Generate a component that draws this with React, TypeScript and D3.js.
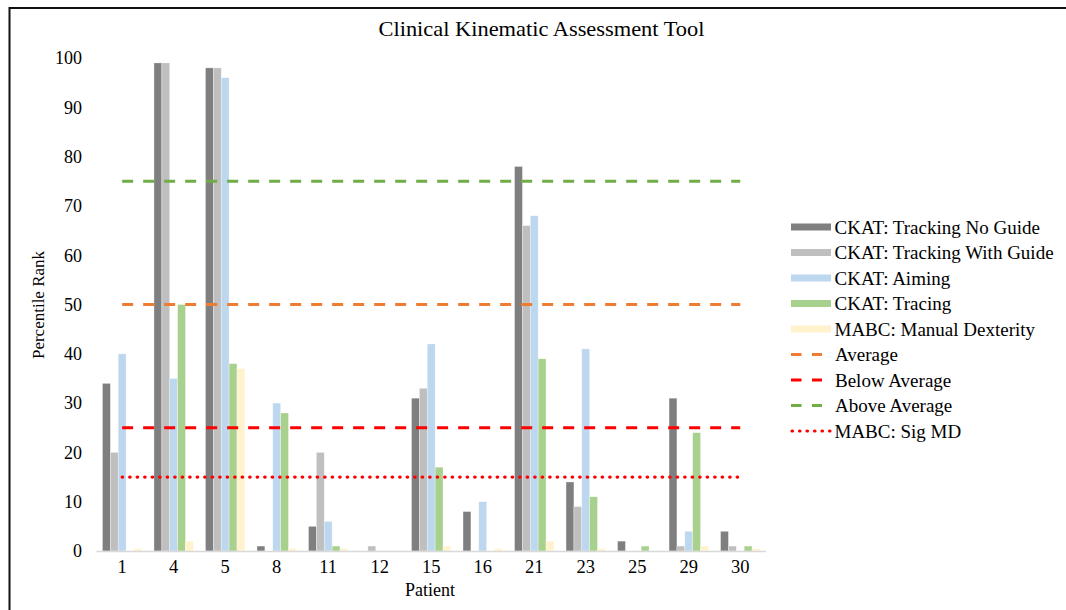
import React from "react";
import * as d3 from "d3";

// Patients on the category axis
const patients = ["1", "4", "5", "8", "11", "12", "15", "16", "21", "23", "25", "29", "30"];

// Percentile rank per assessment, one value per patient
const trackingNoGuide = [34, 99, 98, 1, 5, 0, 31, 8, 78, 14, 2, 31, 4];
const trackingWithGuide = [20, 99, 98, 0, 20, 1, 33, 0, 66, 9, 0, 1, 1];
const aiming = [40, 35, 96, 30, 6, 0, 42, 10, 68, 41, 0, 4, 0];
const tracing = [0, 50, 38, 28, 1, 0, 17, 0, 39, 11, 1, 24, 1];
const manualDexterity = [0.5, 2, 37, 0.5, 0.5, 0, 1, 0.5, 2, 0.5, 0, 1, 0.5];

const seriesNames = [
  "CKAT: Tracking No Guide",
  "CKAT: Tracking With Guide",
  "CKAT: Aiming",
  "CKAT: Tracing",
  "MABC: Manual Dexterity",
];
const seriesValues = [trackingNoGuide, trackingWithGuide, aiming, tracing, manualDexterity];
const seriesColors = ["#7f7f7f", "#bfbfbf", "#bdd7ee", "#a9d18e", "#fff2cc"];

// Threshold lines
const thresholdNames = ["Average", "Below Average", "Above Average", "MABC: Sig MD"];
const thresholdValues = [50, 25, 75, 15];
const thresholdColors = ["#ed7d31", "#ff0000", "#70ad47", "#ff0000"];
const thresholdDotted = [false, false, false, true];

const yTicks = [0, 10, 20, 30, 40, 50, 60, 70, 80, 90, 100];

const W = 1066;
const H = 610;
const FONT = "'Liberation Serif', 'Times New Roman', serif";

export default function App() {
  const x = d3
    .scaleBand<string>()
    .domain(patients)
    .range([96.4, 766])
    .paddingInner(0.236)
    .paddingOuter(0.118);
  const inner = d3
    .scaleBand<string>()
    .domain(seriesNames)
    .range([0, x.bandwidth()]);
  const y = d3.scaleLinear().domain([0, 100]).range([551, 58]);

  const firstCenter = (x(patients[0]) ?? 0) + x.bandwidth() / 2;
  const lastCenter = (x(patients[patients.length - 1]) ?? 0) + x.bandwidth() / 2;

  const legendX = 791;
  const legendY0 = 227;
  const legendStep = 25.5;

  return (
    <svg
      width={W}
      height={H}
      viewBox={`0 0 ${W} ${H}`}
      style={{ position: "absolute", left: 0, top: 0, background: "#fff" }}
      fontFamily={FONT}
    >
      <rect x={0} y={0} width={W} height={H} fill="#fff" />
      {/* frame edges */}
      <line x1={9.5} x2={W} y1={8} y2={8} stroke="#111" strokeWidth={2} />
      <line x1={9.5} x2={9.5} y1={7} y2={H} stroke="#111" strokeWidth={2} />

      <text
        x={541.5}
        y={36}
        textAnchor="middle"
        fontSize={21}
        textLength={326}
        lengthAdjust="spacingAndGlyphs"
        fill="#000"
      >
        Clinical Kinematic Assessment Tool
      </text>

      {/* y tick labels */}
      {yTicks.map((t) => (
        <text
          key={t}
          x={82}
          y={y(t)}
          dy="0.35em"
          textAnchor="end"
          fontSize={18}
          fill="#000"
        >
          {t}
        </text>
      ))}

      <text
        transform={`translate(38,305) rotate(-90)`}
        textAnchor="middle"
        dy="0.35em"
        fontSize={17}
        fill="#000"
      >
        Percentile Rank
      </text>

      {/* bars */}
      {seriesValues.map((vals, si) => (
        <g key={seriesNames[si]} fill={seriesColors[si]}>
          {vals.map((v, ci) => {
            const bx = (x(patients[ci]) ?? 0) + (inner(seriesNames[si]) ?? 0);
            const top = y(v);
            return (
              <rect
                key={ci}
                x={bx}
                y={top}
                width={inner.bandwidth()}
                height={Math.max(0, y(0) - top)}
                stroke="#ffffff"
                strokeOpacity={0.5}
                strokeWidth={0.6}
              />
            );
          })}
        </g>
      ))}

      {/* category axis */}
      <line x1={96.4} x2={766} y1={y(0) + 0.5} y2={y(0) + 0.5} stroke="#d9d9d9" strokeWidth={1.5} />
      {patients.map((p) => (
        <text
          key={p}
          x={(x(p) ?? 0) + x.bandwidth() / 2}
          y={573}
          textAnchor="middle"
          fontSize={18.5}
          fill="#000"
        >
          {p}
        </text>
      ))}
      <text x={430} y={596} textAnchor="middle" fontSize={18} fill="#000">
        Patient
      </text>

      {/* threshold lines */}
      {thresholdValues.map((v, i) => (
        <line
          key={thresholdNames[i]}
          x1={firstCenter}
          x2={lastCenter}
          y1={y(v)}
          y2={y(v)}
          stroke={thresholdColors[i]}
          strokeWidth={thresholdDotted[i] ? 3.2 : 3}
          strokeDasharray={thresholdDotted[i] ? "0.5 7" : "11 10"}
          strokeLinecap={thresholdDotted[i] ? "round" : "butt"}
        />
      ))}

      {/* legend */}
      {seriesNames.map((name, i) => {
        const cy = legendY0 + i * legendStep;
        return (
          <g key={name}>
            <rect x={legendX} y={cy - 3.5} width={40} height={7} fill={seriesColors[i]} />
            <text x={834.5} y={cy} dy="0.35em" fontSize={19} fill="#000">
              {name}
            </text>
          </g>
        );
      })}
      {thresholdNames.map((name, i) => {
        const cy = legendY0 + (i + seriesNames.length) * legendStep;
        return (
          <g key={name}>
            <line
              x1={thresholdDotted[i] ? 792 : legendX}
              x2={thresholdDotted[i] ? 830 : 822}
              y1={cy}
              y2={cy}
              stroke={thresholdColors[i]}
              strokeWidth={thresholdDotted[i] ? 3.2 : 3}
              strokeDasharray={thresholdDotted[i] ? "0.5 7" : "10.5 10.5"}
              strokeLinecap={thresholdDotted[i] ? "round" : "butt"}
            />
            <text
              x={thresholdDotted[i] ? 834.5 : 835}
              y={cy}
              dy="0.35em"
              fontSize={19}
              fill="#000"
            >
              {name}
            </text>
          </g>
        );
      })}
    </svg>
  );
}
